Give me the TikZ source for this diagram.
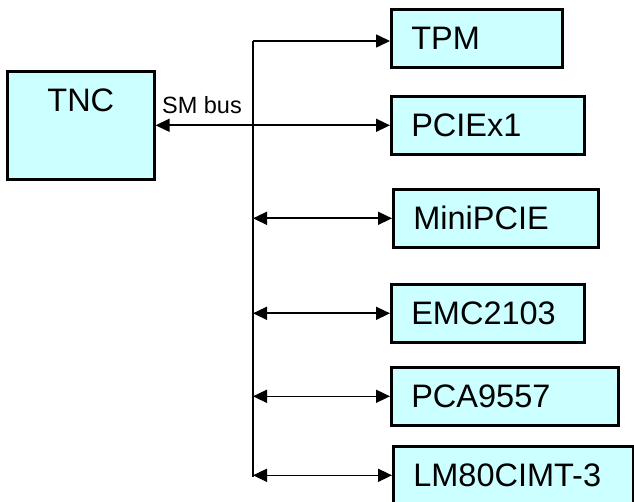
\documentclass[tikz,border=0pt]{standalone}
\usepackage{fontspec}
\setmainfont{Liberation Sans}
\usetikzlibrary{arrows.meta}
\definecolor{boxcyan}{HTML}{CCFFFF}
\tikzset{
  blk/.style={draw, fill=boxcyan, line width=2.6pt, text width=#1, inner xsep=20pt,
    minimum height=58pt, anchor=north west, align=left, font=\fontsize{32.5}{38}\selectfont},
  bus/.style={line width=1.6pt},
}
\begin{document}
\begin{tikzpicture}[x=1pt, y=-1pt, >={Triangle[length=14pt,width=13pt]}]
	\useasboundingbox (0,0) rectangle (634,502);

            \node[blk=107pt, minimum height=108pt] (tnc) at (6,70) {};
            \node[font=\fontsize{32.5}{38}\selectfont, anchor=base] (tnclabel) at ([yshift=-42pt]tnc.north) {TNC};

            \node[blk=131pt] (tpm) at (390,8) {TPM};
            \node[blk=153pt] (pcie) at (390,95) {PCIEx1};
            \node[blk=165pt] (mini) at (392,188) {MiniPCIE};
            \node[blk=153pt] (emc) at (390,283) {EMC2103};
            \node[blk=187pt] (pca) at (390,366) {PCA9557};
            \node[blk=200pt] (lm) at (392,445) {LM80CIMT-3};

            \coordinate (bustop) at (253,41);
            \coordinate (busbot) at (253,477);
            \draw[bus] (bustop)--(busbot);
            \draw[bus,->] (bustop)--(bustop -| tpm.west);

            \draw[bus,<->] (tnc.east)--(pcie.west);
            \node[font=\fontsize{23.5}{28}\selectfont, anchor=base west] (smbus) at ([xshift=3pt,yshift=12pt]tnc.east) {SM bus};

            \foreach \dev in {mini,emc,pca,lm}{
              \draw[bus,<->] (\dev.west -| bustop)--(\dev.west);
            }

          %\node at (253,495) {};
        \end{tikzpicture}
\end{document}
